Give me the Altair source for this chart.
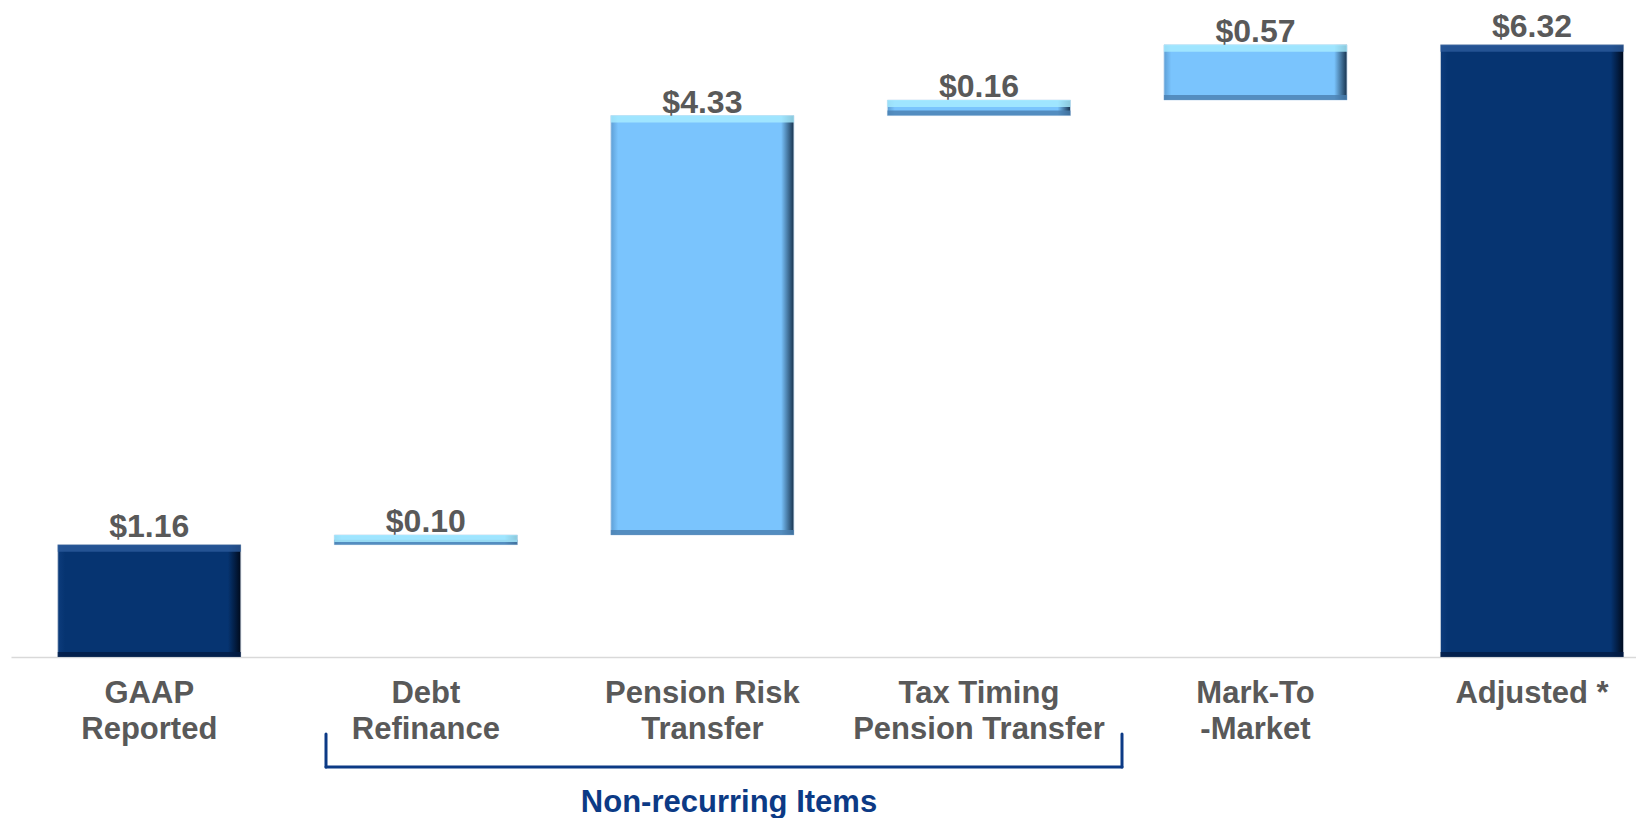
import altair as alt
import pandas as pd

categories = ["GAAP|Reported", "Debt|Refinance", "Pension Risk|Transfer",
              "Tax Timing|Pension Transfer", "Mark-To|-Market", "Adjusted *"]
amounts = [1.16, 0.10, 4.33, 0.16, 0.57, 6.32]
kinds = ["total", "delta", "delta", "delta", "delta", "total"]
bracket_label = "Non-recurring Items"

starts, ends = [], []
running = 0.0
for a, k in zip(amounts, kinds):
    if k == "total":
        starts.append(0.0)
        ends.append(a)
        running = a
    else:
        starts.append(running)
        running = round(running + a, 2)
        ends.append(running)

df = pd.DataFrame({
    "cat": categories,
    "amount": amounts,
    "kind": kinds,
    "start": starts,
    "end": ends,
})
df["label"] = df["amount"].map(lambda v: f"${v:.2f}")

NAVY = "#063471"
LIGHT = "#7ac4fd"
GRAY = "#595959"
BRACKET = "#0c3a85"
FONT = "Liberation Sans"

xscale = alt.Scale(paddingInner=0.338, paddingOuter=0.107, align=0.79)
yscale = alt.Scale(domain=[0, 6.68], nice=False, zero=True)

X = alt.X("cat:N", sort=categories, scale=xscale,
          axis=alt.Axis(title=None, labelAngle=0, ticks=False,
                        domainColor="#d9d9d9", domainWidth=1.5,
                        labelFont=FONT, labelFontSize=31, labelFontWeight="bold",
                        labelColor=GRAY, labelPadding=21, labelLineHeight=36,
                        labelOverlap=False, labelBaseline="top", labelLimit=600,
                        labelExpr="split(datum.label, '|')"))

navy_grad = alt.Gradient(gradient="linear", x1=0, x2=1, y1=0, y2=0, stops=[
    alt.GradientStop(color="#0d3c7c", offset=0),
    alt.GradientStop(color=NAVY, offset=0.04),
    alt.GradientStop(color=NAVY, offset=0.93),
    alt.GradientStop(color="#000a1c", offset=1),
])
light_grad = alt.Gradient(gradient="linear", x1=0, x2=1, y1=0, y2=0, stops=[
    alt.GradientStop(color="#5e9fd6", offset=0),
    alt.GradientStop(color=LIGHT, offset=0.04),
    alt.GradientStop(color=LIGHT, offset=0.93),
    alt.GradientStop(color="#17324d", offset=1),
])

base = alt.Chart(df)

totals = base.transform_filter("datum.kind == 'total'").mark_bar(
    fill=navy_grad, stroke="#c8d0dc", strokeWidth=0.8
).encode(x=X, y=alt.Y("start:Q", scale=yscale, axis=None), y2="end:Q")

deltas = base.transform_filter("datum.kind == 'delta'").mark_bar(
    fill=light_grad, stroke="#c8dcf0", strokeWidth=0.8
).encode(x=alt.X("cat:N", sort=categories), y=alt.Y("start:Q"), y2="end:Q")

shade_scale = alt.Scale(domain=["total", "delta"], range=["#021c45", "#4a80b0"])
hi_scale = alt.Scale(domain=["total", "delta"], range=["#2c5b9c", "#a9eeff"])

bottom_band = base.mark_bar(yOffset=-5, opacity=0.8).encode(
    x=alt.X("cat:N", sort=categories), y="start:Q", y2="start:Q",
    color=alt.Color("kind:N", scale=shade_scale, legend=None))

top_band = base.mark_bar(y2Offset=7, opacity=0.8).encode(
    x=alt.X("cat:N", sort=categories), y="end:Q", y2="end:Q",
    color=alt.Color("kind:N", scale=hi_scale, legend=None))

lab_tot = base.transform_filter("datum.kind == 'total'").mark_text(
    font=FONT, fontSize=32, fontWeight="bold", color=GRAY,
    baseline="alphabetic", dy=-8
).encode(x=alt.X("cat:N", sort=categories), y="end:Q", text="label:N")

lab_del = base.transform_filter("datum.kind == 'delta'").mark_text(
    font=FONT, fontSize=32, fontWeight="bold", color=GRAY,
    baseline="alphabetic", dy=-3
).encode(x=alt.X("cat:N", sort=categories), y="end:Q", text="label:N")

one = alt.Chart(pd.DataFrame({"t": [bracket_label]}))
br_left = one.mark_rule(color=BRACKET, strokeWidth=3, strokeCap="round").encode(
    x=alt.value(315), y=alt.value(724), y2=alt.value(757))
br_right = one.mark_rule(color=BRACKET, strokeWidth=3, strokeCap="round").encode(
    x=alt.value(1111), y=alt.value(724), y2=alt.value(757))
br_bottom = one.mark_rule(color=BRACKET, strokeWidth=3, strokeCap="round").encode(
    x=alt.value(315), x2=alt.value(1111), y=alt.value(757))
br_text = one.mark_text(font=FONT, fontSize=31, fontWeight="bold", color=BRACKET,
                        baseline="middle", align="center").encode(
    x=alt.value(718), y=alt.value(793), text="t:N")

chart = alt.layer(
    totals, deltas, bottom_band, top_band, lab_tot, lab_del,
    br_left, br_right, br_bottom, br_text
).resolve_scale(color="independent").properties(
    width=1625, height=647,
    background="white",
    padding={"left": 3, "top": 2, "right": 0, "bottom": 0},
).configure_view(stroke=None)

chart.save("out.html", embed_options={"renderer": "svg", "actions": False})
